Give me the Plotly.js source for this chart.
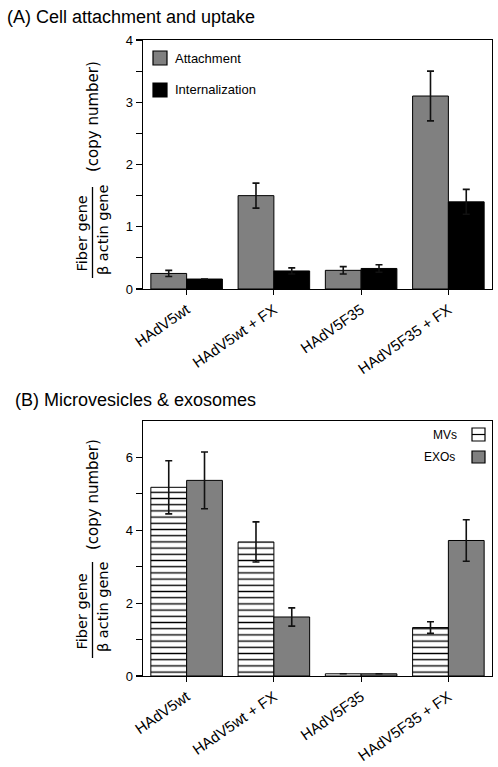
<!DOCTYPE html>
<html><head><meta charset="utf-8">
<script src="https://cdn.plot.ly/plotly-3.0.1.min.js"></script>
<style>html,body{margin:0;padding:0;background:#fff}#chart{width:498px;height:767px}</style>
</head><body><div id="chart"></div>
<script>
// ---- data ----
const categories = ['HAdV5wt', 'HAdV5wt + FX', 'HAdV5F35', 'HAdV5F35 + FX'];
const attachment = [0.25, 1.50, 0.30, 3.10];
const attachmentErr = [0.05, 0.20, 0.06, 0.40];
const internalization = [0.16, 0.29, 0.33, 1.40];
const internalizationErr = [0.00, 0.05, 0.06, 0.20];
const mvs = [5.18, 3.68, 0.06, 1.33];
const mvsErr = [0.73, 0.55, 0.00, 0.16];
const exos = [5.37, 1.62, 0.06, 3.72];
const exosErr = [0.78, 0.25, 0.00, 0.57];
const yTicksA = [0, 0.5, 1, 1.5, 2, 2.5, 3, 3.5, 4];
const yTextA = ['0', '', '1', '', '2', '', '3', '', '4'];
const yTicksB = [0, 1, 2, 3, 4, 5, 6];
const yTextB = ['0', '', '2', '', '4', '', '6'];

// ---- layout helpers (pixel -> paper) ----
const W = 498, H = 767, L = 143, R = 6, T = 40, B = 91;
const PW = W - L - R, PH = H - T - B;
const px = x => (x - L) / PW;
const py = y => (H - B - y) / PH;

const FONT = 'Liberation Sans, Arial, sans-serif';
const TFONT = 'DejaVu Sans, Liberation Sans, sans-serif';
const GRAY = '#808080';
const errStyle = {type: 'data', visible: true, color: '#111', thickness: 1.6, width: 3.5};

const traces = [
  {type: 'bar', name: 'Attachment', x: categories, y: attachment, xaxis: 'x', yaxis: 'y',
   marker: {color: GRAY, line: {color: '#000', width: 1}},
   error_y: Object.assign({array: attachmentErr}, errStyle), showlegend: false},
  {type: 'bar', name: 'Internalization', x: categories, y: internalization, xaxis: 'x', yaxis: 'y',
   marker: {color: '#000', line: {color: '#000', width: 1}},
   error_y: Object.assign({array: internalizationErr}, errStyle), showlegend: false},
  {type: 'bar', name: 'MVs', x: categories, y: mvs, xaxis: 'x2', yaxis: 'y2',
   marker: {color: '#fff', line: {color: '#000', width: 1},
            pattern: {shape: '-', fgcolor: '#000', bgcolor: '#fff', size: 6.2, solidity: 0.22}},
   error_y: Object.assign({array: mvsErr}, errStyle), showlegend: false},
  {type: 'bar', name: 'EXOs', x: categories, y: exos, xaxis: 'x2', yaxis: 'y2',
   marker: {color: GRAY, line: {color: '#000', width: 1}},
   error_y: Object.assign({array: exosErr}, errStyle), showlegend: false}
];

const xAxisCommon = {
  type: 'category', range: [-0.5, 3.5], showline: true, linecolor: '#000', linewidth: 1.3,
  mirror: true, ticks: 'outside', ticklen: 5, tickwidth: 1.2, tickcolor: '#000',
  tickangle: -35, tickfont: {family: FONT, size: 15, color: '#000'}, showgrid: false, zeroline: false,
  fixedrange: true
};
const yAxisCommon = {
  showline: true, linecolor: '#000', linewidth: 1.3, mirror: true, ticks: 'outside', ticklen: 6,
  tickwidth: 1.2, tickcolor: '#000', tickfont: {family: FONT, size: 13, color: '#000'},
  showgrid: false, zeroline: false, tickmode: 'array', fixedrange: true
};

const ann = [];
const shapes = [];
function txt(text, x, y, size, opts, family) {
  ann.push(Object.assign({text: text, xref: 'paper', yref: 'paper', x: px(x), y: py(y),
    showarrow: false, font: {family: family || FONT, size: size, color: '#000'},
    xanchor: 'center', yanchor: 'middle'}, opts || {}));
}
function rect(x0, y0, x1, y1, fill) {
  shapes.push({type: 'rect', xref: 'paper', yref: 'paper', x0: px(x0), x1: px(x1), y0: py(y1), y1: py(y0),
    fillcolor: fill, line: {color: '#000', width: 1.2}});
}
function vline(x, y0, y1) {
  shapes.push({type: 'line', xref: 'paper', yref: 'paper', x0: px(x), x1: px(x), y0: py(y0), y1: py(y1),
    line: {color: '#000', width: 1.3}});
}
function hline(x0, x1, y) {
  shapes.push({type: 'line', xref: 'paper', yref: 'paper', x0: px(x0), x1: px(x1), y0: py(y), y1: py(y),
    line: {color: '#000', width: 1.2}});
}

// panel titles
txt('(A) Cell attachment and uptake', 5, 17, 18, {xanchor: 'left'});
txt('(B) Microvesicles &amp; exosomes', 13, 400, 18, {xanchor: 'left'});

// y-axis titles (fraction)
function yTitle(fiberY, lineY0, lineY1, betaY, copyY) {
  txt('Fiber gene', 81.5, fiberY, 14.5, {textangle: -90}, TFONT);
  vline(92.5, lineY0, lineY1);
  txt('β actin gene', 103, betaY, 14.5, {textangle: -90}, TFONT);
  txt('(copy number)', 93, copyY, 15, {textangle: -90}, TFONT);
}
yTitle(234, 187, 278, 230, 117);
yTitle(612, 562, 658, 607, 495);

// legend A
rect(153, 51, 167, 65, GRAY);
rect(153, 83, 167, 97, '#000');
txt('Attachment', 173, 58, 13, {xanchor: 'left'});
txt('Internalization', 173, 90, 13, {xanchor: 'left'});

// legend B
rect(472, 428, 485, 441, '#fff');
hline(472, 485, 434.5);
rect(472, 451, 485, 463, GRAY);
txt('MVs', 459, 435, 12, {xanchor: 'right'});
txt('EXOs', 457, 457, 12, {xanchor: 'right'});

const layout = {
  width: W, height: H, margin: {l: L, r: R, t: T, b: B, pad: 0},
  paper_bgcolor: '#fff', plot_bgcolor: '#fff', showlegend: false,
  barmode: 'group', bargap: 0.18, bargroupgap: 0,
  font: {family: FONT, color: '#000'},
  xaxis: Object.assign({anchor: 'y', domain: [0, 1]}, xAxisCommon),
  yaxis: Object.assign({anchor: 'x', domain: [py(289), 1], range: [0, 4], tickvals: yTicksA, ticktext: yTextA}, yAxisCommon),
  xaxis2: Object.assign({anchor: 'y2', domain: [0, 1]}, xAxisCommon),
  yaxis2: Object.assign({anchor: 'x2', domain: [0, py(421)], range: [0, 7], tickvals: yTicksB, ticktext: yTextB}, yAxisCommon),
  annotations: ann, shapes: shapes
};

Plotly.newPlot('chart', traces, layout, {displayModeBar: false, staticPlot: true});
</script>
</body></html>
